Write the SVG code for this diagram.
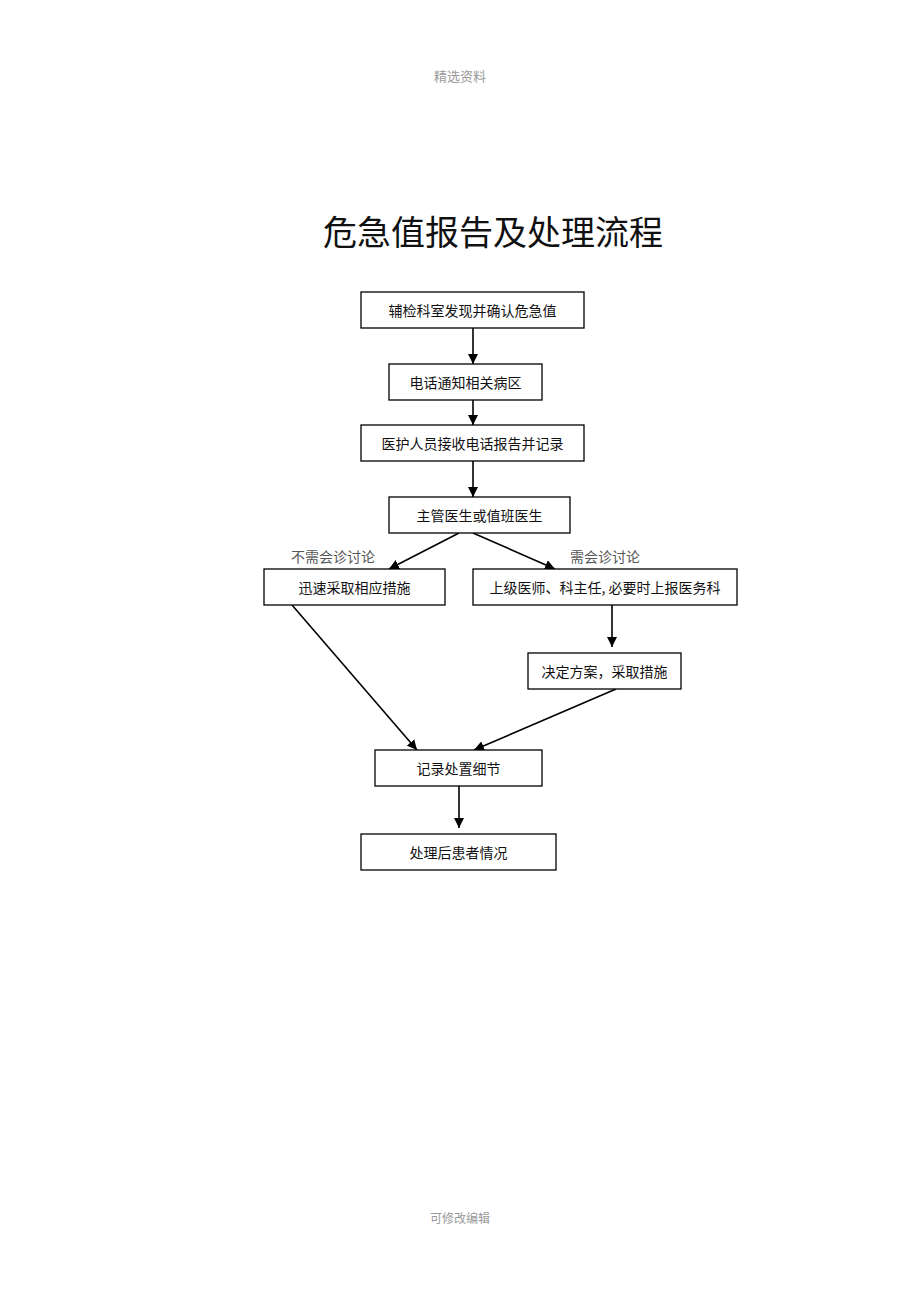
<svg xmlns="http://www.w3.org/2000/svg" width="920" height="1302" viewBox="0 0 920 1302">
<defs>
<marker id="ah" viewBox="0 0 10 10" refX="10" refY="5" markerWidth="10" markerHeight="10" markerUnits="userSpaceOnUse" orient="auto">
<path d="M0,0 L10,5 L0,10 Z" fill="#000"/>
</marker>
<style>
.box{fill:#fff;stroke:#000;stroke-width:1.3}
.t{font-family:"Noto Sans CJK SC","Liberation Sans",sans-serif;font-size:14px;fill:#111;text-anchor:middle;dominant-baseline:central}
.lbl{font-family:"Noto Sans CJK SC","Liberation Sans",sans-serif;font-size:14px;fill:#555;text-anchor:middle;dominant-baseline:central}
.c{stroke:#000;stroke-width:1.6;fill:none;marker-end:url(#ah)}
.hf{font-family:"Noto Sans CJK SC","Liberation Sans",sans-serif;font-size:13px;fill:#999;text-anchor:middle;dominant-baseline:central}
</style>
</defs>
<rect width="920" height="1302" fill="#fff"/>
<text class="hf" x="460" y="75">精选资料</text>
<text class="hf" x="460" y="1217" style="font-size:12px">可修改编辑</text>
<text x="493" y="230" style="font-family:'Noto Sans CJK SC',sans-serif;font-size:34px;fill:#111;text-anchor:middle;dominant-baseline:central">危急值报告及处理流程</text>
<g id="connectors">
<line class="c" x1="473" y1="328" x2="473" y2="364"/>
<line class="c" x1="473" y1="400" x2="473" y2="425"/>
<line class="c" x1="473" y1="461" x2="473" y2="497"/>
<line class="c" x1="459" y1="533" x2="389" y2="569"/>
<line class="c" x1="473" y1="533" x2="555" y2="569"/>
<line class="c" x1="612" y1="605" x2="612" y2="647"/>
<line class="c" x1="292" y1="605" x2="417" y2="750"/>
<line class="c" x1="616" y1="689" x2="474" y2="750"/>
<line class="c" x1="459" y1="786" x2="459" y2="828"/>
<text class="lbl" x="333" y="556">不需会诊讨论</text>
<text class="lbl" x="605" y="556">需会诊讨论</text>
</g>
<g id="n1"><rect class="box" x="361" y="292" width="223" height="36"/><text class="t" x="472.5" y="310">辅检科室发现并确认危急值</text></g>
<g id="n2"><rect class="box" x="389" y="364" width="153" height="36"/><text class="t" x="465.5" y="382">电话通知相关病区</text></g>
<g id="n3"><rect class="box" x="361" y="425" width="223" height="36"/><text class="t" x="472.5" y="443">医护人员接收电话报告并记录</text></g>
<g id="n4"><rect class="box" x="389" y="497" width="181" height="36"/><text class="t" x="479.5" y="515">主管医生或值班医生</text></g>
<g id="n5"><rect class="box" x="264" y="569" width="181" height="36"/><text class="t" x="354.5" y="587">迅速采取相应措施</text></g>
<g id="n6"><rect class="box" x="473" y="569" width="264" height="36"/><text class="t" x="605" y="587">上级医师、科主任, 必要时上报医务科</text></g>
<g id="n7"><rect class="box" x="528" y="653" width="153" height="36"/><text class="t" x="604.5" y="671">决定方案，采取措施</text></g>
<g id="n8"><rect class="box" x="375" y="750" width="167" height="36"/><text class="t" x="458.5" y="768">记录处置细节</text></g>
<g id="n9"><rect class="box" x="361" y="834" width="195" height="36"/><text class="t" x="458.5" y="852">处理后患者情况</text></g>
</svg>
